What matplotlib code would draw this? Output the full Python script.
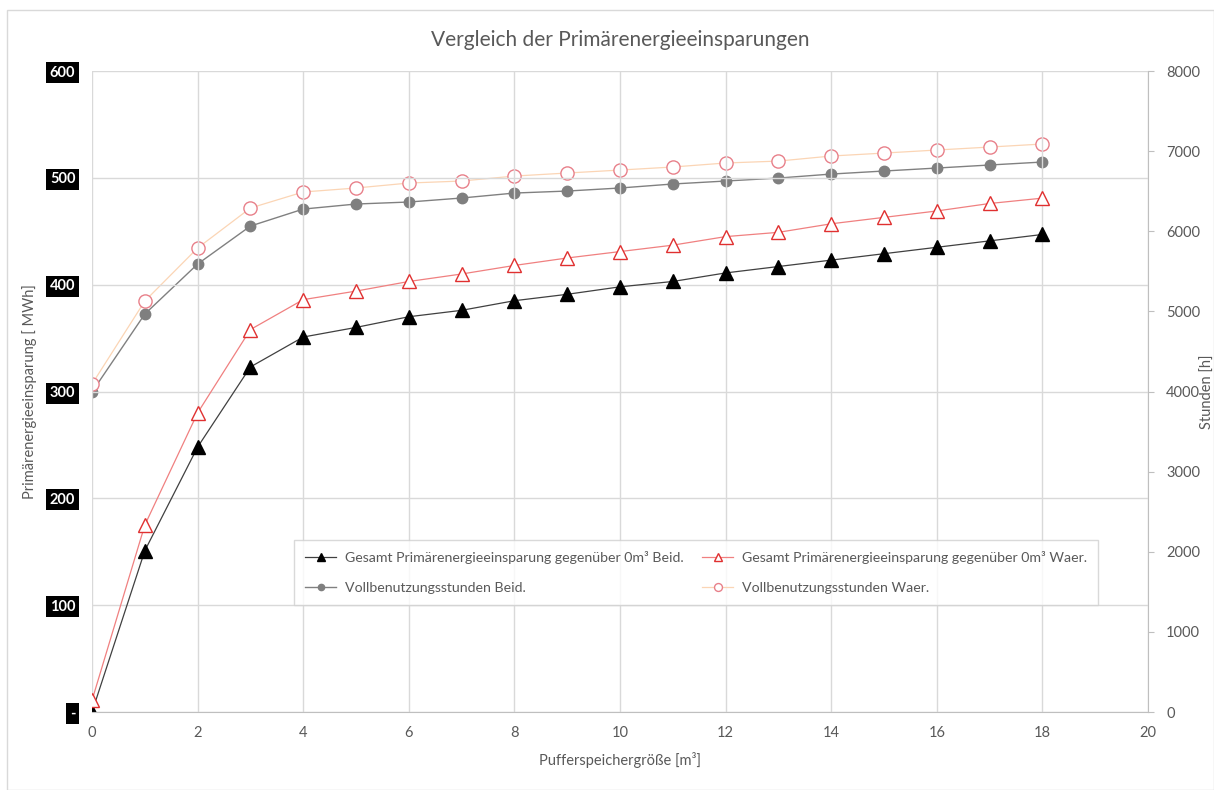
import matplotlib.pyplot as plt
from matplotlib.patches import Rectangle

plt.rcParams['font.family'] = ['Lato', 'DejaVu Sans']

# Pufferspeichergröße [m³]
size = list(range(19))

# Primärenergieeinsparung [MWh] (left axis)
gesamt_beid = [0, 151, 248, 323, 351, 360, 370, 376, 385, 391, 398, 403, 411, 417, 423, 429, 435, 441, 447]
gesamt_waer = [11, 175, 280, 358, 386, 394, 403, 410, 418, 425, 431, 437, 445, 449, 457, 463, 469, 476, 481]

# Vollbenutzungsstunden [h] (right axis)
vbh_beid = [3995, 4967, 5591, 6065, 6277, 6340, 6365, 6415, 6477, 6502, 6540, 6590, 6627, 6664, 6714, 6752, 6789, 6827, 6864]
vbh_waer = [4093, 5129, 5791, 6290, 6490, 6540, 6602, 6627, 6689, 6727, 6764, 6802, 6852, 6876, 6939, 6976, 7014, 7051, 7089]

left_ticks = [0, 100, 200, 300, 400, 500, 600]
left_labels = ['-', '100', '200', '300', '400', '500', '600']
right_ticks = [0, 1000, 2000, 3000, 4000, 5000, 6000, 7000, 8000]
x_ticks = [0, 2, 4, 6, 8, 10, 12, 14, 16, 18, 20]

text_col = '#595959'
grid_col = '#d9d9d9'

fig = plt.figure(figsize=(12.14, 7.90), dpi=100)
fig.patches.append(Rectangle((0.006, 0.0), 0.994, 0.987, transform=fig.transFigure,
                             fill=False, edgecolor='#d9d9d9', lw=1))

ax = fig.add_axes([0.0758, 0.0987, 0.8698, 0.8114])
ax2 = ax.twinx()

l1, = ax.plot(size, gesamt_beid, '-', color='#404040', lw=0.9, marker='^',
              ms=10, mfc='black', mec='black', label='Gesamt Primärenergieeinsparung gegenüber 0m³ Beid.')
l2, = ax.plot(size, gesamt_waer, '-', color='#f08080', lw=0.9, marker='^',
              ms=10, mfc='white', mec='#e03030', mew=1.0,
              label='Gesamt Primärenergieeinsparung gegenüber 0m³ Waer.')
l3, = ax2.plot(size, vbh_beid, '-', color='#808080', lw=1.0, marker='o',
               ms=7.5, mfc='#7f7f7f', mec='#7f7f7f', label='Vollbenutzungsstunden Beid.')
l4, = ax2.plot(size, vbh_waer, '-', color='#fbd5b5', lw=0.9, marker='o',
               ms=9.5, mfc='white', mec='#e8808a', mew=1.0, label='Vollbenutzungsstunden Waer.')

ax.set_xlim(0, 20)
ax.set_ylim(0, 600)
ax2.set_ylim(0, 8000)
ax.set_zorder(2)
ax.patch.set_visible(False)

ax.set_xticks(x_ticks)
ax.set_yticks(left_ticks)
ax.set_yticklabels(left_labels)
ax2.set_yticks(right_ticks)

ax.grid(True, color=grid_col, lw=1)
ax.set_axisbelow(True)
for s in ['top', 'left', 'right']:
    ax.spines[s].set_visible(False)
for s in ['top', 'left']:
    ax2.spines[s].set_visible(False)
ax.spines['bottom'].set_color('#bfbfbf')
ax2.spines['bottom'].set_visible(False)
ax2.spines['right'].set_color('#bfbfbf')

ax.tick_params(axis='x', length=0, pad=10, labelsize=10.5, labelcolor=text_col)
ax.tick_params(axis='y', length=0, pad=12, labelsize=10.5, labelcolor='white')
for lbl in ax.get_yticklabels():
    lbl.set_bbox(dict(facecolor='black', edgecolor='none', pad=2.5))
    lbl.set_fontweight('bold')
ax2.tick_params(axis='y', length=4, color='#bfbfbf', pad=9, labelsize=10.5, labelcolor=text_col)

ax.set_xlabel('Pufferspeichergröße [m³]', fontsize=10.5, color=text_col, labelpad=9)
ax.set_ylabel('Primärenergieeinsparung [ MWh]', fontsize=10.5, color=text_col, labelpad=9)
ax2.set_ylabel('Stunden [h]', fontsize=10.5, color=text_col, va='center')
ax2.yaxis.set_label_coords(1.057, 0.5)
ax.set_title('Vergleich der Primärenergieeinsparungen', fontsize=15, color=text_col, pad=18)

leg = ax.legend(handles=[l1, l3, l2, l4], ncol=2, loc='center',
                bbox_to_anchor=(0.572, 0.218), fontsize=10.2, frameon=True,
                fancybox=False, edgecolor='#d0d0d0', labelcolor=text_col,
                handlelength=2.2, columnspacing=1.3, labelspacing=1.25,
                borderpad=0.8, handletextpad=0.6, markerscale=0.6)
leg.get_frame().set_linewidth(1)

fig.savefig('out.png', dpi=100)
